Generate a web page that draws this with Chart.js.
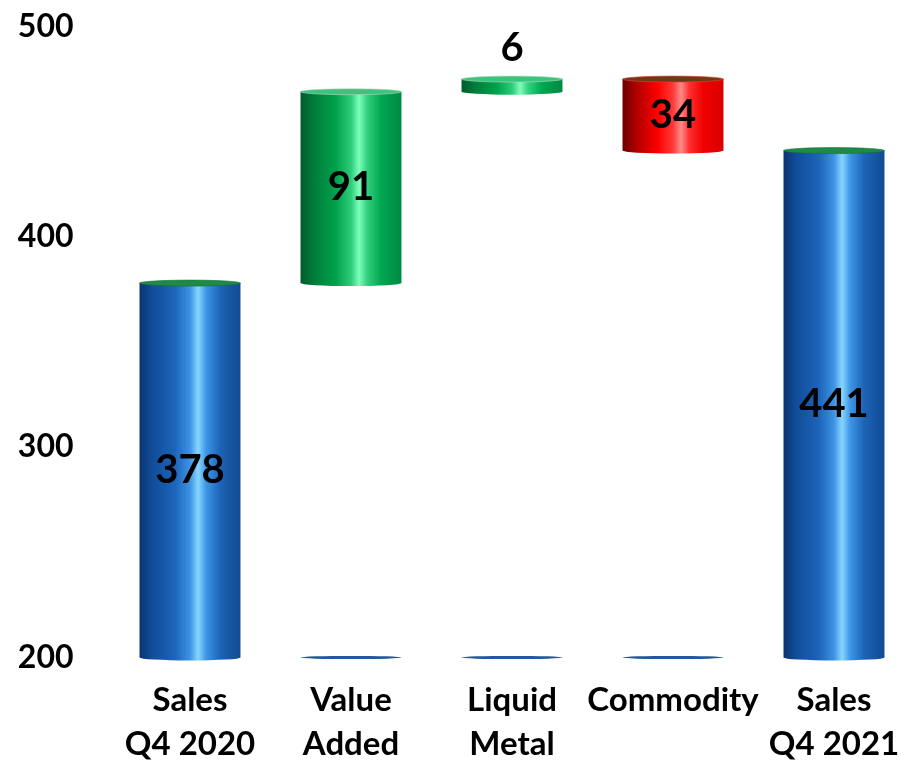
<!DOCTYPE html>
<html>
<head>
<meta charset="utf-8">
<script src="https://cdn.jsdelivr.net/npm/chart.js@4/dist/chart.umd.min.js"></script>
<style>
  html, body { margin: 0; padding: 0; background: #fff; overflow: hidden; }
  #wrap { width: 930px; height: 766px; }
</style>
</head>
<body>
<div id="wrap"><canvas id="c" width="930" height="766"></canvas></div>
<script>
// Waterfall: sales bridge from Q4 2020 to Q4 2021
const categories = [['Sales', 'Q4 2020'], ['Value', 'Added'], ['Liquid', 'Metal'], ['Commodity'], ['Sales', 'Q4 2021']];
const changes = [378, 91, 6, -34, 441];
const kinds = ['total', 'up', 'up', 'down', 'total'];
const yTicks = [200, 300, 400, 500];
const axisMin = 200;
const axisMax = 500;

// Floating [start, end] ranges from the running total
const ranges = [];
let running = 0;
changes.forEach((v, i) => {
  if (kinds[i] === 'total') {
    ranges.push([axisMin, v]);
    running = v;
  } else {
    ranges.push([running, running + v]);
    running += v;
  }
});

const FONT = 'Lato, "Liberation Sans", sans-serif';

const palettes = {
  total: {
    stops: [[0, '#0a3470'], [0.12, '#114c98'], [0.35, '#1c64bb'], [0.5, '#3d93e4'], [0.58, '#86d6ff'], [0.66, '#3d96e6'], [0.8, '#1d63b6'], [1, '#114a92']],
    cap: '#1f8a48', capEdge: '#147038'
  },
  up: {
    stops: [[0, '#005a2a'], [0.12, '#007a3a'], [0.35, '#00a14c'], [0.5, '#2ccc78'], [0.58, '#7cffba'], [0.66, '#33d080'], [0.8, '#00a650'], [1, '#008a42']],
    cap: '#3cc47c', capEdge: '#b8d8c4'
  },
  down: {
    stops: [[0, '#6a0000'], [0.12, '#a80000'], [0.35, '#ff0000'], [0.5, '#ff3a3a'], [0.58, '#ff8a8a'], [0.66, '#ff3030'], [0.8, '#f00000'], [1, '#d80000']],
    cap: '#6e3a14', capEdge: '#d84a3a'
  }
};

const cylinderPlugin = {
  id: 'cylinders',
  afterDatasetsDraw(chart) {
    const ctx = chart.ctx;
    const meta = chart.getDatasetMeta(0);
    const yScale = chart.scales.y;
    const floorY = yScale.getPixelForValue(axisMin);
    ctx.save();
    meta.data.forEach((bar, i) => {
      const p = bar.getProps(['x', 'y', 'base', 'width'], true);
      const top = Math.min(p.y, p.base);
      const bottom = Math.max(p.y, p.base);
      const left = p.x - p.width / 2;
      const right = p.x + p.width / 2;
      const rx = p.width / 2;
      const ry = 3;
      const pal = palettes[kinds[i]];

      // faint base disc left by the hidden lower segment
      if (ranges[i][0] > axisMin && kinds[i] !== 'total') {
        ctx.beginPath();
        ctx.ellipse(p.x, floorY, rx, 1.6, 0, 0, Math.PI * 2);
        ctx.fillStyle = '#1f5a9e';
        ctx.fill();
      }

      const grad = ctx.createLinearGradient(left, 0, right, 0);
      pal.stops.forEach(s => grad.addColorStop(s[0], s[1]));

      // body with rounded bottom
      ctx.beginPath();
      ctx.moveTo(left, top);
      ctx.lineTo(left, bottom);
      ctx.ellipse(p.x, bottom, rx, ry, 0, Math.PI, 0, true);
      ctx.lineTo(right, top);
      ctx.closePath();
      ctx.fillStyle = grad;
      ctx.fill();

      // top cap
      ctx.beginPath();
      ctx.ellipse(p.x, top, rx, ry, 0, 0, Math.PI * 2);
      ctx.fillStyle = pal.cap;
      ctx.fill();
      ctx.lineWidth = 1;
      ctx.strokeStyle = pal.capEdge;
      ctx.globalAlpha = 0.6;
      ctx.stroke();
      ctx.globalAlpha = 1;

      // value label
      const label = String(Math.abs(changes[i]));
      ctx.font = 'bold 40px ' + FONT;
      ctx.fillStyle = '#000';
      ctx.textAlign = 'center';
      ctx.textBaseline = 'middle';
      const h = bottom - top;
      const ly = h > 40 ? (top + bottom) / 2 : top - 31;
      ctx.fillText(label, p.x, ly);
    });
    ctx.restore();
  }
};

new Chart(document.getElementById('c'), {
  type: 'bar',
  data: {
    labels: categories,
    datasets: [{
      data: ranges,
      backgroundColor: 'rgba(0,0,0,0)',
      borderWidth: 0,
      barPercentage: 0.627,
      categoryPercentage: 1
    }]
  },
  options: {
    responsive: false,
    animation: false,
    events: [],
    layout: { padding: { left: 0, right: 15.5, top: 26.5, bottom: 0 } },
    plugins: { legend: { display: false }, tooltip: { enabled: false } },
    scales: {
      x: {
        grid: { display: false, drawTicks: false },
        border: { display: false },
        ticks: {
          color: '#000',
          font: { family: FONT, size: 33, weight: 'bold', lineHeight: 1.36 },
          padding: 20,
          maxRotation: 0,
          autoSkip: false
        },
        afterFit(scale) {
          scale.height = 766 - 657.5;
          scale.paddingLeft = 0;
          scale.paddingRight = 0;
        }
      },
      y: {
        min: axisMin,
        max: axisMax,
        grid: { display: false, drawTicks: false },
        border: { display: false },
        afterBuildTicks(scale) { scale.ticks = yTicks.map(v => ({ value: v })); },
        ticks: {
          color: '#000',
          font: { family: FONT, size: 32, weight: 'bold' },
          padding: 36
        },
        afterFit(scale) {
          scale.width = 109.5;
          scale.paddingTop = 0;
          scale.paddingBottom = 0;
        }
      }
    }
  },
  plugins: [cylinderPlugin]
});
</script>
</body>
</html>
